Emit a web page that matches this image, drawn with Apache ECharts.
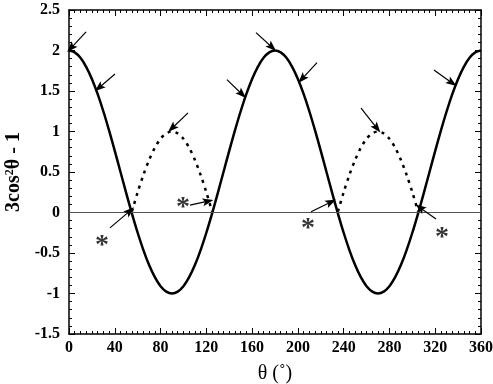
<!DOCTYPE html>
<html><head><meta charset="utf-8">
<script src="https://cdn.jsdelivr.net/npm/echarts@6/dist/echarts.min.js"></script>
<style>html,body{margin:0;padding:0;background:#fff}#c{width:493px;height:384px}</style>
</head><body><div id="c"></div>
<script>
// angles in degrees, 5° steps
var angles = [0,5,10,15,20,25,30,35,40,45,50,55,60,65,70,75,80,85,90,95,100,105,110,115,120,125,130,135,140,145,150,155,160,165,170,175,180,185,190,195,200,205,210,215,220,225,230,235,240,245,250,255,260,265,270,275,280,285,290,295,300,305,310,315,320,325,330,335,340,345,350,355,360];
// solid curve: 3cos²θ - 1
var solidValues = [2,1.977,1.910,1.799,1.649,1.464,1.25,1.013,0.761,0.5,0.240,-0.013,-0.25,-0.464,-0.649,-0.799,-0.910,-0.977,-1,-0.977,-0.910,-0.799,-0.649,-0.464,-0.25,-0.013,0.240,0.5,0.761,1.013,1.25,1.464,1.649,1.799,1.910,1.977,2,1.977,1.910,1.799,1.649,1.464,1.25,1.013,0.761,0.5,0.240,-0.013,-0.25,-0.464,-0.649,-0.799,-0.910,-0.977,-1,-0.977,-0.910,-0.799,-0.649,-0.464,-0.25,-0.013,0.240,0.5,0.761,1.013,1.25,1.464,1.649,1.799,1.910,1.977,2];
// dotted (reflected) segments
var dotAngles1 = [55,60,65,70,75,80,85,90,95,100,105,110,115,120,125];
var dotValues1 = [0.013,0.25,0.464,0.649,0.799,0.910,0.977,1,0.977,0.910,0.799,0.649,0.464,0.25,0.013];
var dotAngles2 = [235,240,245,250,255,260,265,270,275,280,285,290,295,300,305];
var dotValues2 = [0.013,0.25,0.464,0.649,0.799,0.910,0.977,1,0.977,0.910,0.799,0.649,0.464,0.25,0.013];
// x tick labels, y tick labels
var xTicks = [0,40,80,120,160,200,240,280,320,360];
var yTicks = [-1.5,-1,-0.5,0,0.5,1,1.5,2,2.5];
// annotation arrows: [tailθ, tailV, headθ, headV]
var arrows = [
  [14.9,2.23,1.7,2.03],[40.2,1.71,26.2,1.54],[104,1.23,90,1.04],[138,1.64,151.2,1.46],
  [163.4,2.22,177.4,2.04],[216.7,1.85,203.6,1.65],[255.2,1.29,269.1,1.04],[318.9,1.76,334.7,1.60],
  [35.8,-0.19,53.3,0.02],[105.7,0.09,121.5,0.14],[211.5,0.01,229,0.13],[320.7,-0.08,306.7,0.06]
];
var asterisks = [[28.8,-0.33],[99.6,0.15],[208.8,-0.12],[326,-0.22]];

function zip(a,b){return a.map(function(v,i){return [v,b[i]];});}
var serif = '"Liberation Serif","DejaVu Serif",serif';
var axisLabelCommon = {fontFamily:serif,fontWeight:'bold',fontSize:16,color:'#000'};
function xAx(pos, show){
  return {type:'value',min:0,max:360,interval:40,position:pos,
    axisLine:{show:true,onZero:false,lineStyle:{color:'#000',width:1.5}},
    axisTick:{show:true,inside:true,length:6,lineStyle:{color:'#000',width:1}},
    minorTick:{show:true,splitNumber:8,length:3,lineStyle:{color:'#000',width:1}},
    splitLine:{show:false},
    axisLabel:show?Object.assign({margin:6,formatter:function(v){return xTicks.indexOf(v)>=0?String(v):'';}},axisLabelCommon):{show:false},
    name:show?'θ (˚)':'',nameLocation:'middle',nameGap:30,
    nameTextStyle:{fontFamily:serif,fontSize:20,color:'#000'}};
}
function yAx(pos, show){
  return {type:'value',min:-1.5,max:2.5,interval:0.5,position:pos,
    axisLine:{show:true,onZero:false,lineStyle:{color:'#000',width:1.5}},
    axisTick:{show:true,inside:true,length:6,lineStyle:{color:'#000',width:1}},
    minorTick:{show:true,splitNumber:5,length:3,lineStyle:{color:'#000',width:1}},
    splitLine:{show:false},
    axisLabel:show?Object.assign({margin:9,formatter:function(v){return yTicks.indexOf(v)>=0?String(v):'';}},axisLabelCommon):{show:false},
    name:show?'{a|3cos}{s|2}{a|θ - 1}':'',nameLocation:'middle',nameGap:44,nameRotate:90,
    nameTextStyle:{rich:{a:{fontFamily:serif,fontWeight:'bold',fontSize:20,color:'#000'},
      s:{fontFamily:serif,fontWeight:'bold',fontSize:12,color:'#000',verticalAlign:'top',padding:[0,0,8,0]}}}};
}
var chart = echarts.init(document.getElementById('c'),null,{renderer:'canvas'});
var arrowPath = 'path://M0,0 L5,14 L0,11 L-5,14 Z';
chart.setOption({
  animation:false,
  grid:{left:69,right:12,top:10,bottom:50,containLabel:false,outerBoundsMode:'none'},
  xAxis:[xAx('bottom',true),xAx('top',false)],
  yAxis:[yAx('left',true),yAx('right',false)],
  series:[
    {type:'line',data:zip(angles,solidValues),smooth:0.3,showSymbol:false,
     lineStyle:{color:'#000',width:2.5},
     markLine:{silent:true,symbol:'none',label:{show:false},
       lineStyle:{color:'#555',width:1,type:'solid'},data:[{yAxis:0}]}},
    {type:'line',data:zip(dotAngles1,dotValues1),smooth:0.3,showSymbol:false,
     lineStyle:{color:'#000',width:2.5,type:[3,5]}},
    {type:'line',data:zip(dotAngles2,dotValues2),smooth:0.3,showSymbol:false,
     lineStyle:{color:'#000',width:2.5,type:[3,5]}},
    {type:'line',data:[],
     markLine:{silent:true,symbol:['none',arrowPath],symbolSize:[8,11],label:{show:false},
       lineStyle:{color:'#000',width:1.2,type:'solid'},
       data:arrows.map(function(a){return [{coord:[a[0],a[1]]},{coord:[a[2],a[3]]}];})}},
    {type:'scatter',data:asterisks,symbolSize:1,itemStyle:{color:'rgba(0,0,0,0)'},
     label:{show:true,position:'inside',formatter:'*',fontFamily:serif,fontWeight:'bold',fontSize:28,color:'#000',offset:[0,7]}}
  ]
});
</script></body></html>
